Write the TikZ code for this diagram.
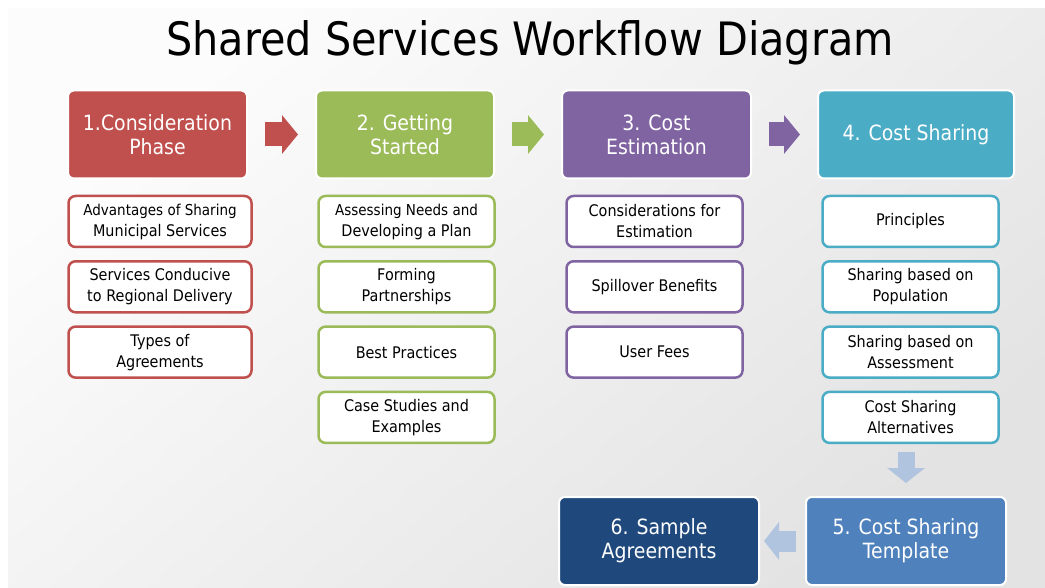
\documentclass[tikz,border=0pt]{standalone}
\usepackage{fontspec}
\setmainfont{DejaVu Sans}[FakeStretch=0.9]
\usetikzlibrary{arrows.meta}
\definecolor{phaseA}{HTML}{C0504D}
\definecolor{phaseB}{HTML}{9BBB59}
\definecolor{phaseC}{HTML}{8064A2}
\definecolor{phaseD}{HTML}{4BACC6}
\definecolor{phaseE}{HTML}{4F81BD}
\definecolor{phaseF}{HTML}{1F497D}
\definecolor{flowblue}{HTML}{B0C3DF}
\tikzset{
 phase/.style={rounded corners=6pt, draw=white, line width=2pt, text=white, align=center,
   inner sep=0pt, minimum height=88pt, font=\fontsize{21}{24}\selectfont},
 topic/.style={rounded corners=7pt, fill=white, line width=2.5pt, align=center,
   inner sep=0pt, minimum width=176pt, minimum height=51pt, font=\fontsize{16}{21}\selectfont},
 flow/.style={line width=24pt, -{Triangle[length=16pt,width=38pt]}}
}
\newcommand{\smalltopic}{\fontsize{15}{18.5}\selectfont}

\begin{document}
\begin{tikzpicture}[x=1pt,y=-1pt]
\useasboundingbox (0,0) rectangle (1045,588);
\fill[white] (0,0) rectangle (1045,588);
\shade[top color=white!99!black, bottom color=white!89!black, shading angle=40] (8,9) rectangle (1045,588);

\node[font=\fontsize{46}{52}\selectfont] (title) at (530,43) {Shared Services Workflow Diagram};

% phase headers
\foreach \n/\x/\w/\c/\t in {1/157.5/179/phaseA/{1.Consideration\\Phase},
  2/405/178/phaseB/{2. Getting\\Started}, 3/656.5/189/phaseC/{3. Cost\\Estimation},
  4/916/196/phaseD/{4. Cost Sharing}}
 \node[phase, fill=\c, minimum width=\w pt] (p\n) at (\x,134.5) {\t};
\node[phase, fill=phaseE, minimum width=200pt] (p5) at (906,541) {5. Cost Sharing\\Template};
\node[phase, fill=phaseF, minimum width=200pt] (p6) at (659,541) {6. Sample\\Agreements};

% topics under each phase
\foreach \t [count=\i] in {{\smalltopic Advantages of Sharing\\Municipal Services},
  {Services Conducive\\to Regional Delivery}, {Types of\\Agreements}}
 \node[topic, draw=phaseA, minimum width=183pt] (a\i) at (160,156.2+65.3*\i) {\t};
\foreach \t [count=\i] in {{\smalltopic Assessing Needs and\\Developing a Plan},
  {Forming\\Partnerships}, {Best Practices}, {Case Studies and\\Examples}}
 \node[topic, draw=phaseB] (b\i) at (406.5,156.2+65.3*\i) {\t};
\foreach \t [count=\i] in {{Considerations for\\Estimation}, {Spillover Benefits}, {User Fees}}
 \node[topic, draw=phaseC] (c\i) at (654.5,156.2+65.3*\i) {\t};
\foreach \t [count=\i] in {{Principles}, {Sharing based on\\Population},
  {Sharing based on\\Assessment}, {Cost Sharing\\Alternatives}}
 \node[topic, draw=phaseD] (d\i) at (910.5,156.2+65.3*\i) {\t};

% block arrows
\foreach \i/\j/\c in {1/2/phaseA, 2/3/phaseB, 3/4/phaseC}
 \draw[flow, \c, shorten <=17pt, shorten >=17pt] (p\i.east) -- (p\j.west);
\draw[flow, flowblue, line width=17pt, -{Triangle[length=15pt,width=37pt]},
  shorten <=8pt, shorten >=13pt] (p5.north |- d4.south) -- (p5.north);
\draw[flow, flowblue, line width=21pt, -{Triangle[length=15pt,width=37pt]},
  shorten <=9pt, shorten >=4pt] (p5.west) -- (p6.east);
\end{tikzpicture}
\end{document}
